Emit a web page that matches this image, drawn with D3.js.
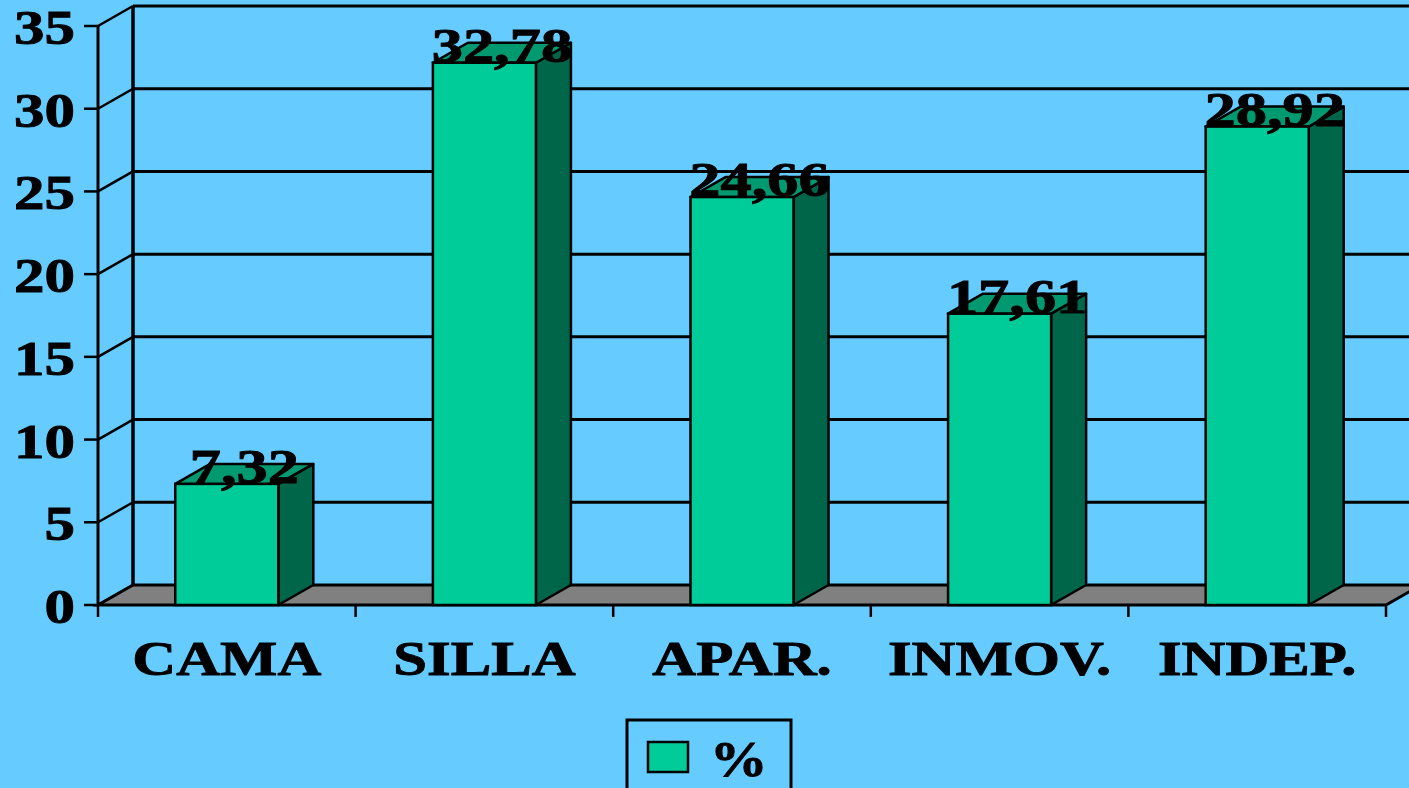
<!DOCTYPE html>
<html>
<head>
<meta charset="utf-8">
<script src="https://cdn.jsdelivr.net/npm/d3@7"></script>
<style>
  html, body { margin: 0; padding: 0; background: #66CCFF; overflow: hidden; }
  svg { display: block; }
  text { font-family: "Liberation Serif", "Times New Roman", serif; font-weight: bold; fill: #000; stroke: #000; stroke-width: 0.9; }
</style>
</head>
<body>
<svg id="canvas" width="1409" height="788"></svg>
<script>
// data
let categories = ['CAMA', 'SILLA', 'APAR.', 'INMOV.', 'INDEP.']
let values = [7.32, 32.78, 24.66, 17.61, 28.92]
let valueLabels = ['7,32', '32,78', '24,66', '17,61', '28,92']
let yTicks = [0, 5, 10, 15, 20, 25, 30, 35]
let seriesName = '%'

let canvas = d3.select('#canvas')

// 3d offsets
let dx = 35, dy = -20
let stretch = 1.27

let x = d3.scaleBand()
    .domain(categories)
    .range([98, 1386])
    .paddingInner(0.6)
    .paddingOuter(0.3)

let y = d3.scaleLinear()
    .domain([0, 35])
    .range([605, 26])

let x0 = x.range()[0], x1 = x.range()[1]

// back wall grid lines
canvas.selectAll('.grid')
    .data(yTicks.filter(t => t > 0))
    .enter()
    .append('line')
    .attr('x1', x0 + dx).attr('x2', x1 + dx)
    .attr('y1', t => y(t) + dy).attr('y2', t => y(t) + dy)
    .attr('stroke', '#000').attr('stroke-width', 3)

// side wall diagonals
canvas.selectAll('.diag')
    .data(yTicks)
    .enter()
    .append('line')
    .attr('x1', x0).attr('x2', x0 + dx)
    .attr('y1', t => y(t)).attr('y2', t => y(t) + dy)
    .attr('stroke', '#000').attr('stroke-width', 2.5)

// back wall left edge
canvas.append('line')
    .attr('x1', x0 + dx).attr('x2', x0 + dx)
    .attr('y1', y(35) + dy).attr('y2', y(0) + dy)
    .attr('stroke', '#000').attr('stroke-width', 3.5)

// floor
canvas.append('polygon')
    .attr('points', [[x0, y(0)], [x1, y(0)], [x1 + dx, y(0) + dy], [x0 + dx, y(0) + dy]].join(' '))
    .attr('fill', '#808080')
    .attr('stroke', '#000').attr('stroke-width', 3)

// front axis
canvas.append('line')
    .attr('x1', x0).attr('x2', x0)
    .attr('y1', y(35)).attr('y2', y(0))
    .attr('stroke', '#000').attr('stroke-width', 3)

canvas.selectAll('.ytick')
    .data(yTicks)
    .enter()
    .append('line')
    .attr('x1', x0 - 14).attr('x2', x0)
    .attr('y1', t => y(t)).attr('y2', t => y(t))
    .attr('stroke', '#000').attr('stroke-width', 2.5)

canvas.selectAll('.ylabel')
    .data(yTicks)
    .enter()
    .append('text')
    .attr('text-anchor', 'end')
    .attr('font-size', 48)
    .attr('transform', t => 'translate(75,' + (y(t) + 18) + ') scale(' + stretch + ',1)')
    .text(t => t)

// bottom ticks at category boundaries
let step = x.step()
canvas.selectAll('.xtick')
    .data(d3.range(categories.length + 1))
    .enter()
    .append('line')
    .attr('x1', i => x0 + i * step).attr('x2', i => x0 + i * step)
    .attr('y1', y(0)).attr('y2', y(0) + 12)
    .attr('stroke', '#000').attr('stroke-width', 2.5)

// bars
let bw = x.bandwidth()
let bars = canvas.selectAll('.bar')
    .data(values)
    .enter()
    .append('g')

bars.append('polygon')
    .attr('points', (v, i) => {
        let bx = x(categories[i]), top = y(v), bot = y(0)
        return [[bx + bw, bot], [bx + bw + dx, bot + dy], [bx + bw + dx, top + dy], [bx + bw, top]].join(' ')
    })
    .attr('fill', '#00664A').attr('stroke', '#000').attr('stroke-width', 2.5).attr('stroke-linejoin', 'round')

bars.append('polygon')
    .attr('points', (v, i) => {
        let bx = x(categories[i]), top = y(v)
        return [[bx, top], [bx + bw, top], [bx + bw + dx, top + dy], [bx + dx, top + dy]].join(' ')
    })
    .attr('fill', '#009970').attr('stroke', '#000').attr('stroke-width', 2.5).attr('stroke-linejoin', 'round')

bars.append('rect')
    .attr('x', (v, i) => x(categories[i]))
    .attr('y', v => y(v))
    .attr('width', bw)
    .attr('height', v => y(0) - y(v))
    .attr('fill', '#00CC99').attr('stroke', '#000').attr('stroke-width', 2.5)

// value labels
canvas.selectAll('.vlabel')
    .data(values)
    .enter()
    .append('text')
    .attr('text-anchor', 'middle')
    .attr('font-size', 48)
    .attr('transform', (v, i) => 'translate(' + (x(categories[i]) + bw / 2 + dx / 2) + ',' + (y(v) - 1) + ') scale(1.3,1)')
    .text((v, i) => valueLabels[i])

// category labels
canvas.selectAll('.xlabel')
    .data(categories)
    .enter()
    .append('text')
    .attr('text-anchor', 'middle')
    .attr('font-size', 49)
    .attr('transform', c => 'translate(' + (x(c) + bw / 2) + ',675) scale(1.24,1)')
    .text(c => c)

// legend
let legend = canvas.append('g')
legend.append('rect')
    .attr('x', 627).attr('y', 720).attr('width', 164).attr('height', 90)
    .attr('fill', 'none').attr('stroke', '#000').attr('stroke-width', 3)
legend.append('rect')
    .attr('x', 648).attr('y', 742).attr('width', 40).attr('height', 30)
    .attr('fill', '#00CC99').attr('stroke', '#000').attr('stroke-width', 2.5)
legend.append('text')
    .attr('font-size', 50)
    .attr('transform', 'translate(710,776) scale(1.15,1)')
    .text(seriesName)
</script>
</body>
</html>
